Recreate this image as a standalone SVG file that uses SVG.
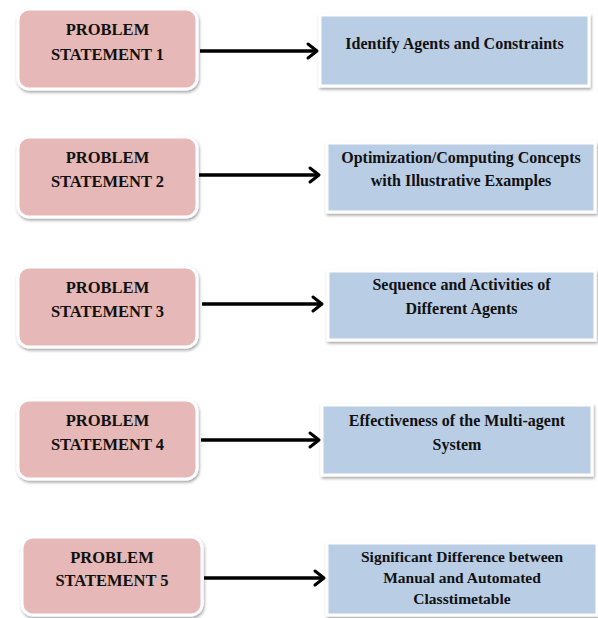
<svg xmlns="http://www.w3.org/2000/svg" width="598" height="618" viewBox="0 0 598 618">
  <defs>
    <filter id="shadow" x="-10%" y="-10%" width="120%" height="130%">
      <feDropShadow dx="1" dy="2" stdDeviation="1.5" flood-color="#000" flood-opacity="0.35"/>
    </filter>
    <marker id="chevron" markerUnits="userSpaceOnUse" markerWidth="20" markerHeight="20" viewBox="-12 -10 14 20" refX="0" refY="0" orient="auto">
      <path d="M -9 -7 L 0 0 L -9 7" fill="none" stroke="#000" stroke-width="3" stroke-linecap="round" stroke-linejoin="round"/>
    </marker>
    <style>
      .problem { fill: #e6b8b7; stroke: #fff; stroke-width: 3; filter: url(#shadow); }
      .outcome { fill: #b9cde5; stroke: #fff; stroke-width: 3; filter: url(#shadow); }
      text { font-family: "Liberation Serif", "Times New Roman", serif; font-weight: bold; font-size: 16px; fill: #111; text-anchor: middle; }
      .ps { font-size: 16.5px; }
      .small { font-size: 15.5px; }
      .link { stroke: #000; stroke-width: 3.5; fill: none; marker-end: url(#chevron); }
    </style>
  </defs>

  <!-- problem statements -->
  <g id="ps1">
    <rect class="problem" x="18" y="9" width="179" height="80" rx="11"/>
    <text class="ps" x="107.5" y="35">PROBLEM</text>
    <text class="ps" x="107.5" y="60">STATEMENT 1</text>
  </g>
  <g id="ps2">
    <rect class="problem" x="18" y="137" width="179" height="80" rx="11"/>
    <text class="ps" x="107.5" y="163">PROBLEM</text>
    <text class="ps" x="107.5" y="187">STATEMENT 2</text>
  </g>
  <g id="ps3">
    <rect class="problem" x="18" y="267" width="179" height="80" rx="11"/>
    <text class="ps" x="107.5" y="293">PROBLEM</text>
    <text class="ps" x="107.5" y="317">STATEMENT 3</text>
  </g>
  <g id="ps4">
    <rect class="problem" x="18" y="400" width="179" height="79" rx="11"/>
    <text class="ps" x="107.5" y="426">PROBLEM</text>
    <text class="ps" x="107.5" y="450">STATEMENT 4</text>
  </g>
  <g id="ps5">
    <rect class="problem" x="22" y="537" width="180" height="78" rx="11"/>
    <text class="ps" x="112" y="563">PROBLEM</text>
    <text class="ps" x="112" y="586">STATEMENT 5</text>
  </g>

  <!-- outcomes -->
  <g id="out1">
    <rect class="outcome" x="320" y="15" width="269" height="71"/>
    <text x="454.5" y="49">Identify Agents and Constraints</text>
  </g>
  <g id="out2">
    <rect class="outcome" x="327" y="143" width="268" height="69"/>
    <text x="461" y="163">Optimization/Computing Concepts</text>
    <text x="461" y="186">with Illustrative Examples</text>
  </g>
  <g id="out3">
    <rect class="outcome" x="328" y="271" width="267" height="69"/>
    <text x="461.5" y="290">Sequence and Activities of</text>
    <text x="461.5" y="314">Different Agents</text>
  </g>
  <g id="out4">
    <rect class="outcome" x="322" y="405" width="270" height="70"/>
    <text x="457" y="426">Effectiveness of the Multi-agent</text>
    <text x="457" y="450">System</text>
  </g>
  <g id="out5">
    <rect class="outcome" x="327" y="543" width="270" height="72"/>
    <text class="small" x="462" y="562">Significant Difference between</text>
    <text class="small" x="462" y="583">Manual and Automated</text>
    <text class="small" x="462" y="604">Classtimetable</text>
  </g>

  <!-- connectors -->
  <g id="connectors">
    <line class="link" x1="200" y1="51" x2="317" y2="51"/>
    <line class="link" x1="199" y1="175" x2="319" y2="175"/>
    <line class="link" x1="202" y1="304" x2="322" y2="304"/>
    <line class="link" x1="201" y1="440" x2="319" y2="440"/>
    <line class="link" x1="204" y1="578" x2="324" y2="578"/>
  </g>
</svg>
